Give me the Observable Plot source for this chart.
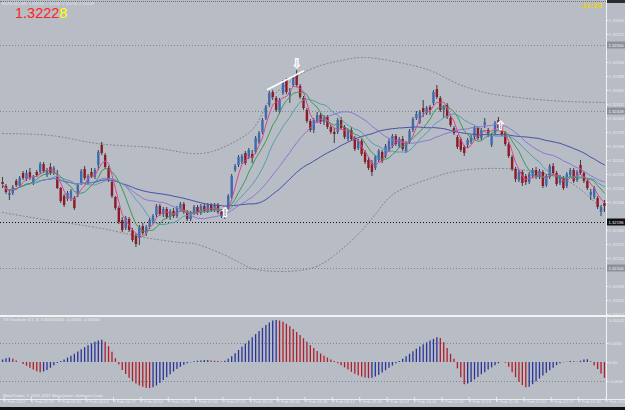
<!DOCTYPE html>
<html><head><meta charset="utf-8">
<script src="https://cdn.jsdelivr.net/npm/d3@7"></script>
<script src="https://cdn.jsdelivr.net/npm/@observablehq/plot@0.6"></script>
<style>
html,body{margin:0;padding:0;background:#b8bcc4;}
#wrap{position:relative;width:625px;height:410px;overflow:hidden;background:#b8bcc4;font-family:"Liberation Sans",Arial,sans-serif;}
#main,#osc{position:absolute;left:0;}
#main{top:0;} #osc{top:317px;}
.abs{position:absolute;white-space:nowrap;}
#info{left:2px;top:2px;font-size:4.3px;line-height:4.5px;color:#e4e6ec;}
#big{left:15px;top:7px;font-size:14.5px;line-height:12px;color:#ff2020;}
#big span{color:#ffff00;}
#clock{left:582px;top:2px;font-size:8px;line-height:8px;font-weight:bold;color:#efd200;}
#topdots{left:0;top:1px;width:606px;height:0;border-top:1px dotted #6c7078;}
#corner{left:607px;top:0;width:18px;height:3px;background:#2a2c30;}
#sep{left:0;top:315px;width:625px;height:2px;background:#f2f3f5;}
#vline{left:606px;top:0;width:1px;height:400px;background:#f2f3f5;}
#axline{left:0;top:399px;width:625px;height:1px;background:#eceef2;}
#bottom{left:0;top:407px;width:625px;height:3px;background:#111;}
#osclabel{left:3px;top:318px;font-size:4.2px;line-height:4.5px;color:#eceef2;}
#copy{left:3px;top:394px;font-size:4.2px;line-height:4.5px;color:#eceef2;}
</style></head><body>
<div id="wrap">
<div id="main"></div>
<div id="osc"></div>
<div class="abs" id="topdots"></div>
<div class="abs" id="corner"></div>
<div class="abs" id="sep"></div>
<div class="abs" id="vline"></div>
<div class="abs" id="axline"></div>
<div class="abs" id="bottom"></div>
<div class="abs" id="info">EURUSD,M1  1.32234 1.32240 1.32216 1.32228</div>
<div class="abs" id="big">1.3222<span>8</span></div>
<div class="abs" id="clock">11:23</div>
<div class="abs" id="osclabel">T3 Oscillator (17, 8, 0.80000000) -0.00050 -0.00050</div>
<div class="abs" id="copy">MetaTrader, © 2001-2011 MetaQuotes Software Corp.</div>
</div>
<script>
// ---- candle data (EURUSD) ----
const opens = [1.32276,1.32268,1.32250,1.32254,1.32278,1.32268,1.32294,1.32282,1.32296,1.32276,
1.32296,1.32296,1.32312,1.32290,1.32306,1.32294,1.32286,1.32264,1.32248,1.32242,
1.32244,1.32244,1.32250,1.32274,1.32302,1.32276,1.32296,1.32286,1.32310,1.32350,
1.32330,1.32304,1.32276,1.32246,1.32224,1.32200,1.32184,1.32202,1.32180,1.32168,
1.32164,1.32188,1.32174,1.32186,1.32196,1.32210,1.32228,1.32212,1.32222,1.32206,
1.32218,1.32208,1.32222,1.32232,1.32216,1.32202,1.32214,1.32226,1.32214,1.32228,
1.32218,1.32230,1.32220,1.32230,1.32216,1.32208,1.32222,1.32246,1.32300,1.32310,
1.32316,1.32334,1.32326,1.32332,1.32336,1.32356,1.32376,1.32404,1.32430,1.32456,
1.32444,1.32416,1.32454,1.32480,1.32450,1.32470,1.32492,1.32468,1.32444,1.32420,
1.32398,1.32380,1.32398,1.32410,1.32396,1.32406,1.32386,1.32376,1.32376,1.32400,
1.32386,1.32362,1.32380,1.32364,1.32344,1.32358,1.32336,1.32320,1.32314,1.32304,
1.32320,1.32336,1.32328,1.32340,1.32348,1.32368,1.32348,1.32362,1.32338,1.32356,
1.32380,1.32404,1.32396,1.32424,1.32414,1.32426,1.32434,1.32462,1.32444,1.32420,
1.32430,1.32404,1.32384,1.32366,1.32362,1.32346,1.32350,1.32356,1.32366,1.32384,
1.32364,1.32390,1.32380,1.32350,1.32374,1.32400,1.32388,1.32374,1.32352,1.32326,
1.32302,1.32280,1.32296,1.32288,1.32276,1.32288,1.32300,1.32286,1.32296,1.32270,
1.32286,1.32308,1.32294,1.32274,1.32284,1.32268,1.32290,1.32300,1.32280,1.32310,
1.32294,1.32278,1.32250,1.32246,1.32244,1.32216,1.32234];
const highs = [1.32286,1.32272,1.32260,1.32270,1.32282,1.32288,1.32298,1.32300,1.32304,1.32290,
1.32300,1.32316,1.32316,1.32304,1.32314,1.32308,1.32300,1.32266,1.32252,1.32258,
1.32262,1.32248,1.32274,1.32302,1.32308,1.32292,1.32304,1.32304,1.32340,1.32356,
1.32334,1.32308,1.32280,1.32248,1.32228,1.32206,1.32208,1.32206,1.32184,1.32174,
1.32190,1.32194,1.32190,1.32204,1.32212,1.32232,1.32232,1.32226,1.32226,1.32222,
1.32224,1.32228,1.32236,1.32236,1.32220,1.32218,1.32230,1.32230,1.32232,1.32234,
1.32234,1.32234,1.32234,1.32234,1.32222,1.32224,1.32252,1.32292,1.32312,1.32330,
1.32332,1.32338,1.32344,1.32340,1.32368,1.32378,1.32404,1.32430,1.32458,1.32460,
1.32448,1.32444,1.32480,1.32484,1.32464,1.32490,1.32500,1.32472,1.32448,1.32424,
1.32402,1.32404,1.32416,1.32414,1.32410,1.32410,1.32390,1.32384,1.32404,1.32406,
1.32390,1.32382,1.32386,1.32368,1.32362,1.32362,1.32340,1.32326,1.32320,1.32330,
1.32342,1.32340,1.32352,1.32362,1.32372,1.32372,1.32366,1.32368,1.32358,1.32382,
1.32406,1.32418,1.32420,1.32440,1.32428,1.32430,1.32460,1.32470,1.32448,1.32430,
1.32434,1.32408,1.32388,1.32370,1.32366,1.32350,1.32364,1.32370,1.32388,1.32388,
1.32384,1.32404,1.32384,1.32374,1.32398,1.32406,1.32394,1.32378,1.32356,1.32330,
1.32306,1.32300,1.32300,1.32292,1.32296,1.32304,1.32306,1.32302,1.32300,1.32292,
1.32312,1.32314,1.32298,1.32290,1.32288,1.32296,1.32304,1.32304,1.32300,1.32320,
1.32298,1.32282,1.32262,1.32268,1.32248,1.32230,1.32240];
const lows = [1.32264,1.32252,1.32240,1.32250,1.32266,1.32264,1.32280,1.32278,1.32280,1.32270,
1.32286,1.32292,1.32294,1.32286,1.32290,1.32290,1.32262,1.32234,1.32226,1.32238,
1.32238,1.32220,1.32246,1.32270,1.32280,1.32272,1.32284,1.32282,1.32300,1.32330,
1.32302,1.32276,1.32244,1.32220,1.32192,1.32176,1.32180,1.32176,1.32156,1.32146,
1.32150,1.32170,1.32168,1.32182,1.32192,1.32206,1.32208,1.32206,1.32202,1.32200,
1.32204,1.32204,1.32218,1.32212,1.32198,1.32198,1.32210,1.32210,1.32210,1.32214,
1.32214,1.32216,1.32216,1.32212,1.32204,1.32202,1.32218,1.32242,1.32296,1.32306,
1.32312,1.32310,1.32322,1.32314,1.32332,1.32352,1.32372,1.32400,1.32426,1.32440,
1.32416,1.32412,1.32450,1.32452,1.32434,1.32466,1.32466,1.32442,1.32420,1.32394,
1.32376,1.32374,1.32394,1.32392,1.32390,1.32382,1.32372,1.32354,1.32372,1.32380,
1.32362,1.32358,1.32358,1.32338,1.32340,1.32328,1.32312,1.32300,1.32288,1.32300,
1.32316,1.32314,1.32324,1.32336,1.32344,1.32348,1.32344,1.32338,1.32334,1.32352,
1.32376,1.32400,1.32392,1.32406,1.32410,1.32410,1.32430,1.32442,1.32416,1.32404,
1.32402,1.32386,1.32370,1.32342,1.32336,1.32328,1.32344,1.32352,1.32362,1.32360,
1.32360,1.32384,1.32366,1.32346,1.32370,1.32380,1.32368,1.32348,1.32324,1.32298,
1.32276,1.32276,1.32268,1.32270,1.32272,1.32284,1.32282,1.32282,1.32264,1.32266,
1.32282,1.32290,1.32268,1.32270,1.32260,1.32264,1.32286,1.32274,1.32276,1.32290,
1.32274,1.32260,1.32240,1.32242,1.32222,1.32208,1.32216];
const closes = [1.32272,1.32256,1.32254,1.32266,1.32270,1.32284,1.32284,1.32294,1.32284,1.32286,
1.32290,1.32312,1.32298,1.32300,1.32294,1.32304,1.32264,1.32238,1.32230,1.32254,
1.32258,1.32224,1.32270,1.32298,1.32284,1.32288,1.32286,1.32300,1.32336,1.32334,
1.32306,1.32280,1.32248,1.32224,1.32196,1.32180,1.32204,1.32180,1.32160,1.32152,
1.32186,1.32174,1.32186,1.32200,1.32208,1.32228,1.32212,1.32222,1.32206,1.32218,
1.32208,1.32224,1.32232,1.32216,1.32202,1.32214,1.32226,1.32214,1.32228,1.32218,
1.32230,1.32220,1.32230,1.32216,1.32208,1.32222,1.32248,1.32288,1.32308,1.32326,
1.32328,1.32314,1.32340,1.32324,1.32364,1.32374,1.32400,1.32426,1.32454,1.32446,
1.32420,1.32440,1.32476,1.32456,1.32456,1.32486,1.32470,1.32446,1.32424,1.32398,
1.32380,1.32400,1.32410,1.32396,1.32406,1.32386,1.32376,1.32372,1.32400,1.32384,
1.32366,1.32378,1.32362,1.32342,1.32358,1.32332,1.32316,1.32304,1.32296,1.32326,
1.32338,1.32318,1.32348,1.32358,1.32368,1.32352,1.32362,1.32342,1.32354,1.32378,
1.32402,1.32412,1.32416,1.32416,1.32424,1.32420,1.32456,1.32446,1.32420,1.32426,
1.32406,1.32390,1.32374,1.32346,1.32340,1.32334,1.32360,1.32366,1.32384,1.32364,
1.32380,1.32396,1.32370,1.32370,1.32394,1.32384,1.32372,1.32352,1.32328,1.32302,
1.32282,1.32296,1.32274,1.32276,1.32292,1.32300,1.32286,1.32298,1.32268,1.32288,
1.32308,1.32294,1.32272,1.32286,1.32264,1.32292,1.32300,1.32278,1.32296,1.32294,
1.32278,1.32264,1.32256,1.32264,1.32226,1.32226,1.32228];

// ---- T3 oscillator histogram ----
const oscValues = [0.00008,0.00012,0.00014,0.00010,0.00005,0,-0.00006,-0.00012,-0.00018,-0.00024,
-0.00029,-0.00032,-0.00030,-0.00025,-0.00018,-0.00010,-0.00003,0.00003,0.00008,0.00014,
0.00020,0.00026,0.00033,0.00040,0.00047,0.00053,0.00059,0.00064,0.00068,0.00070,
0.00064,0.00050,0.00032,0.00012,-0.00008,-0.00025,-0.00038,-0.00050,-0.00060,-0.00068,
-0.00074,-0.00078,-0.00081,-0.00082,-0.00080,-0.00074,-0.00066,-0.00057,-0.00048,-0.00039,
-0.00030,-0.00022,-0.00015,-0.00009,-0.00004,-0.00001,0.00002,0.00004,0.00005,0.00006,
0.00006,0.00005,0.00004,0.00003,0.00002,0.00004,0.00010,0.00018,0.00028,0.00038,
0.00048,0.00058,0.00068,0.00078,0.00088,0.00098,0.00108,0.00117,0.00125,0.00131,
0.00133,0.00131,0.00127,0.00121,0.00113,0.00104,0.00095,0.00085,0.00075,0.00064,
0.00054,0.00044,0.00035,0.00027,0.00020,0.00014,0.00008,0.00003,-0.00004,-0.00010,
-0.00017,-0.00024,-0.00031,-0.00037,-0.00042,-0.00046,-0.00049,-0.00051,-0.00050,-0.00046,
-0.00040,-0.00033,-0.00026,-0.00018,-0.00011,-0.00004,0.00003,0.00010,0.00018,0.00026,
0.00034,0.00042,0.00049,0.00056,0.00062,0.00068,0.00073,0.00078,0.00076,0.00062,
0.00044,0.00026,0.00010,-0.00020,-0.00048,-0.00070,-0.00068,-0.00063,-0.00055,-0.00047,
-0.00039,-0.00032,-0.00024,-0.00017,-0.00010,-0.00004,0,-0.00002,-0.00015,-0.00032,
-0.00048,-0.00062,-0.00073,-0.00080,-0.00078,-0.00070,-0.00061,-0.00052,-0.00043,-0.00034,
-0.00026,-0.00018,-0.00010,-0.00004,-0.00001,0.00001,0.00003,0.00002,0.00001,0.00004,
0.00008,0.00009,0.00002,-0.00010,-0.00022,-0.00036,-0.00050];

// ---- envelope bands (bar index, price) ----
const upperIdx = [0,14,24,34,46,58,68,74,78,83,87,93,99,106,116,125,131,136,141,146,160,176];
const upperBand = [1.32374,1.32370,1.32358,1.32350,1.32344,1.32334,1.32358,1.32390,1.32440,1.32472,1.32492,1.32510,1.32520,1.32526,1.32516,1.32500,1.32480,1.32466,1.32456,1.32450,1.32440,1.32436];
const lowerIdx = [0,14,29,40,52,58,67,73,81,90,97,105,111,116,125,134,146,157,166,172,176];
const lowerBand = [1.32216,1.32200,1.32184,1.32168,1.32156,1.32150,1.32124,1.32104,1.32098,1.32104,1.32130,1.32180,1.32230,1.32260,1.32284,1.32300,1.32304,1.32296,1.32276,1.32244,1.32220];

// ---- horizontal levels, trendline, signal arrows ----
const levels = [1.32550, 1.32418, 1.32196, 1.32104];
const trendIdx = [77.5, 88];
const trendPrice = [1.32462, 1.32499];
const arrowIdx = [65, 86, 145.6];
const arrowPrice = [1.32216, 1.32514, 1.32390];
const arrowGlyph = ["⇧", "⇩", "⇧"];

// ---- axis labels ----
const priceTicks = [1.32600,1.32572,1.32544,1.32516,1.32488,1.32460,1.32432,1.32404,1.32376,1.32348,1.32320,1.32292,1.32264,1.32236,1.32208,1.32180,1.32152,1.32124,1.32096,1.32068,1.32040,1.32012];
const timeLabels = ["7 Feb 2012","7 Feb 02:29","7 Feb 03:30","7 Feb 04:03","7 Feb 04:27","7 Feb 04:52","7 Feb 05:41","7 Feb 07:00","7 Feb 07:15","7 Feb 08:23","7 Feb 08:36","7 Feb 08:46","7 Feb 09:12","7 Feb 09:46","7 Feb 10:07","7 Feb 10:41","7 Feb 11:02","7 Feb 11:13","7 Feb 11:40","7 Feb 12:01","7 Feb 12:17","7 Feb 12:43","7 Feb 13:03"];
const oscTicks = [0.001421, 0.0006, 0, -0.0006];
const oscTickLabels = ["0.001421", "0.0006", "0.00", "-0.0006"];

// ---- build ----
const bars = closes.map((c, i) => ({i, open: opens[i], high: highs[i], low: lows[i], close: c}));
const up = bars.filter(d => d.close >= d.open);
const down = bars.filter(d => d.close < d.open);
const upper = upperIdx.map((i, k) => ({i, p: upperBand[k]}));
const lower = lowerIdx.map((i, k) => ({i, p: lowerBand[k]}));
const trend = trendIdx.map((i, k) => ({i, p: trendPrice[k]}));
const arrows = arrowIdx.map((i, k) => ({i, p: arrowPrice[k], g: arrowGlyph[k]}));
const lv = levels.map((p, k) => ({p, dark: k === 2}));
const xDomain = [-0.6, 176.6];
const labelBars = timeLabels.map((_, k) => k * 8);
// scale labels hidden under the level boxes are left out
const shownTicks = priceTicks.filter(t => levels.every(l => Math.abs(t - l) > 0.00012));

const ma = (k, color) => Plot.lineY(bars, Plot.windowY({k, anchor: "end"}, {x: "i", y: "close", stroke: color, strokeWidth: 1}));
const axisText = {fontSize: 4.2, fontFamily: "Liberation Sans", label: null};

const main = Plot.plot({
  width: 625, height: 317,
  marginLeft: 0, marginRight: 19, marginTop: 3, marginBottom: 2,
  style: {background: "transparent", color: "#e8eaef", overflow: "visible"},
  x: {domain: xDomain, axis: null},
  y: {domain: [1.32010, 1.32634], axis: null},
  marks: [
    Plot.ruleY(lv.filter(d => !d.dark), {y: "p", stroke: "#80848c", strokeWidth: 1, strokeDasharray: "1,2"}),
    Plot.ruleY(lv.filter(d => d.dark), {y: "p", stroke: "#151515", strokeWidth: 1, strokeDasharray: "1,2"}),
    Plot.line(upper, {x: "i", y: "p", curve: "natural", stroke: "#7c808a", strokeWidth: 1, strokeDasharray: "1,2.5"}),
    Plot.line(lower, {x: "i", y: "p", curve: "natural", stroke: "#7c808a", strokeWidth: 1, strokeDasharray: "1,2.5"}),
    Plot.ruleX(bars, {x: "i", y1: "low", y2: "high", stroke: "#3a3e4a", strokeWidth: 1}),
    Plot.ruleX(up, {x: "i", y1: "open", y2: "close", stroke: "#3e6bb0", strokeWidth: 2.4}),
    Plot.ruleX(down, {x: "i", y1: "open", y2: "close", stroke: "#8e1a26", strokeWidth: 2.4}),
    ma(45, "#4a4ea8"),
    ma(26, "#8a78d2"),
    ma(14, "#5a9cb2"),
    ma(8, "#3c9a58"),
    ma(4, "#d24c8e"),
    Plot.line(trend, {x: "i", y: "p", stroke: "white", strokeWidth: 1.6}),
    Plot.text(arrows, {x: "i", y: "p", text: "g", fill: "white", stroke: "white", strokeWidth: 0.5, fontSize: 13, fontFamily: "DejaVu Sans"}),
    Plot.axisY(shownTicks, {anchor: "right", tickSize: 1.5, tickPadding: 1, ...axisText, tickFormat: d3.format(".5f")}),
    Plot.rect(lv.filter(d => !d.dark), {x1: 176.75, x2: 182.3, y1: d => d.p - 0.00007, y2: d => d.p + 0.00007, fill: "#8c9098"}),
    Plot.rect(lv.filter(d => d.dark), {x1: 176.75, x2: 182.3, y1: d => d.p - 0.00007, y2: d => d.p + 0.00007, fill: "#101010"}),
    Plot.text(lv, {x: 177.2, y: "p", text: d => d.p.toFixed(5), textAnchor: "start", fill: "#f4f4f6", fontSize: 4.2, fontFamily: "Liberation Sans"})
  ]
});
document.getElementById("main").append(main);

const osc = oscValues.map((v, i) => ({i, v, rising: i === 0 || v >= oscValues[i - 1]}));
const oscPlot = Plot.plot({
  width: 625, height: 93,
  marginLeft: 0, marginRight: 19, marginTop: 0, marginBottom: 13,
  style: {background: "transparent", color: "#e8eaef", overflow: "visible"},
  x: {domain: xDomain, axis: null},
  y: {domain: [-0.001105, 0.001421], axis: null},
  marks: [
    Plot.ruleY([0.0006, -0.0006], {stroke: "#80848c", strokeDasharray: "1,2"}),
    Plot.ruleX(osc.filter(d => d.rising), {x: "i", y1: 0, y2: "v", stroke: "#2a3496", strokeWidth: 1.3}),
    Plot.ruleX(osc.filter(d => !d.rising), {x: "i", y1: 0, y2: "v", stroke: "#b01e2a", strokeWidth: 1.3}),
    Plot.axisY([oscTicks[0]], {anchor: "right", tickSize: 0, tickPadding: 2.5, dy: 3, ...axisText, tickFormat: () => oscTickLabels[0]}),
    Plot.axisY(oscTicks.slice(1), {anchor: "right", tickSize: 1.5, tickPadding: 1, ...axisText, tickFormat: d => oscTickLabels[oscTicks.indexOf(d)]}),
    Plot.axisX(labelBars, {anchor: "bottom", tickSize: 5, tickPadding: -2.5, textAnchor: "start", dx: 1.5, ...axisText, tickFormat: d => timeLabels[labelBars.indexOf(d)]})
  ]
});
document.getElementById("osc").append(oscPlot);
</script>
</body></html>
